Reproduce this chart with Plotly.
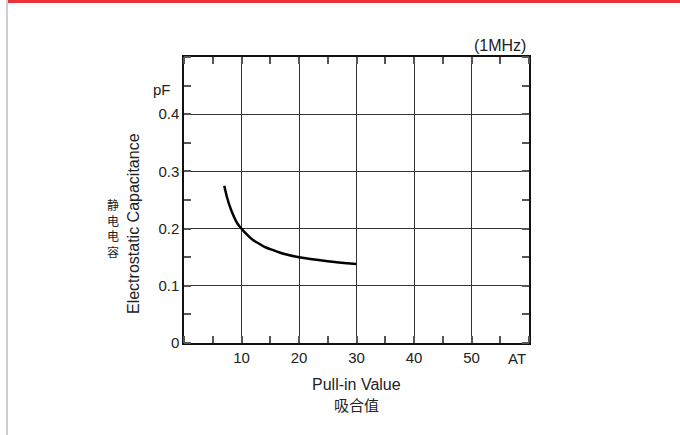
import plotly.graph_objects as go

pull_in = [7, 7.5, 8, 8.5, 9, 9.5, 10, 11, 12, 13, 14, 15, 17, 20, 25, 30]
capacitance = [0.275, 0.254, 0.238, 0.225, 0.214, 0.206, 0.200, 0.189, 0.180,
               0.174, 0.168, 0.164, 0.157, 0.150, 0.143, 0.138]

x_ticks = [10, 20, 30, 40, 50]
x_ticklabels = ["10", "20", "30", "40", "50"]
y_ticks = [0, 0.1, 0.2, 0.3, 0.4]
y_ticklabels = ["0", "0.1", "0.2", "0.3", "0.4"]
y_title_cn = ["静", "电", "电", "容"]

W, H = 680, 435
L, R, T, B = 184, 529, 57, 343

def px(xp):
    return (xp - L) / (R - L)

def py(yp):
    return (B - yp) / (B - T)

FONT = "Liberation Sans, Arial, sans-serif"
CJK = "Noto Sans CJK SC, sans-serif"
TXT = "#222"

fig = go.Figure()
fig.add_trace(go.Scatter(
    x=pull_in, y=capacitance, mode="lines",
    line=dict(color="black", width=2.5, shape="spline", smoothing=0.8),
    showlegend=False, hoverinfo="skip"))

axis_common = dict(
    showline=True, linecolor="#111", linewidth=1.5, mirror="allticks",
    showgrid=True, gridcolor="#333", gridwidth=1, zeroline=False,
    ticks="", tickfont=dict(family=FONT, size=15, color=TXT),
)

fig.update_xaxes(range=[0, 60], tickvals=x_ticks, ticktext=x_ticklabels,
                 minor=dict(dtick=5, tick0=0, ticks="inside", ticklen=7,
                            tickcolor="#555", tickwidth=1.5, showgrid=False),
                 **axis_common)
fig.update_yaxes(range=[0, 0.5], tickvals=y_ticks, ticktext=y_ticklabels,
                 minor=dict(dtick=0.05, tick0=0, ticks="inside", ticklen=7,
                            tickcolor="#555", tickwidth=1.5, showgrid=False),
                 **axis_common)

annotations = [
    dict(text="(1MHz)", x=px(528), y=py(45), xanchor="right", font=dict(family=FONT, size=16, color=TXT)),
    dict(text="pF", x=px(162), y=py(89), font=dict(family=FONT, size=15, color=TXT)),
    dict(text="AT", x=px(517), y=py(358), font=dict(family=FONT, size=15, color=TXT)),
    dict(text="Pull-in Value", x=px(356), y=py(384), font=dict(family=FONT, size=16, color=TXT)),
    dict(text="吸合值", x=px(356), y=py(405), font=dict(family=CJK, size=15, color=TXT)),
    dict(text="Electrostatic Capacitance", x=px(133), y=py(224), textangle=-90,
         font=dict(family=FONT, size=16, color=TXT)),
    dict(text="<br>".join(y_title_cn), x=px(113), y=py(228),
         font=dict(family=CJK, size=12, color=TXT)),
]
for a in annotations:
    a.setdefault("xanchor", "center")
    a.update(xref="paper", yref="paper", showarrow=False, yanchor="middle")

shapes = [
    dict(type="rect", xref="paper", yref="paper", x0=px(7), x1=px(680), y0=py(3), y1=py(0),
         fillcolor="#e8333a", line=dict(width=0), layer="above"),
    dict(type="rect", xref="paper", yref="paper", x0=px(6), x1=px(8), y0=py(435), y1=py(0),
         fillcolor="#cfcfcf", line=dict(width=0), layer="above"),
]

fig.update_layout(
    width=W, height=H, margin=dict(l=L, r=W - R, t=T, b=H - B),
    paper_bgcolor="white", plot_bgcolor="white",
    annotations=annotations, shapes=shapes,
)

fig.write_html("out.html", config={"displayModeBar": False},
               post_script="document.body.style.margin='0';")
